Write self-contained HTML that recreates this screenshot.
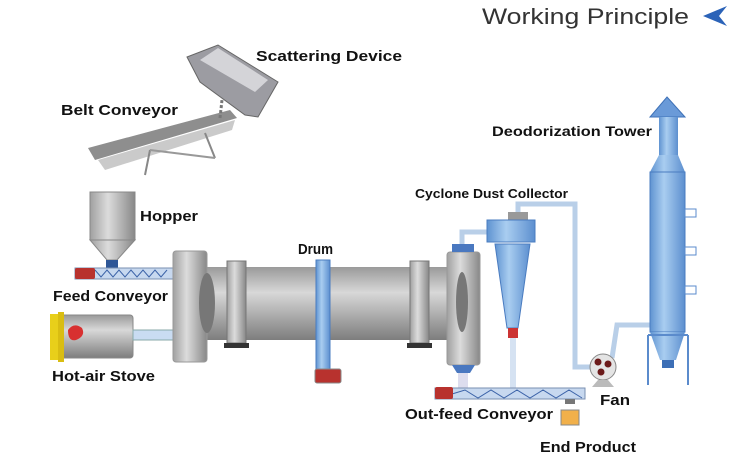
<!DOCTYPE html>
<html><head><meta charset="utf-8"><style>
html,body{margin:0;padding:0;background:#fff;}
svg{display:block}
text{font-family:"Liberation Sans",sans-serif;font-weight:bold;fill:#111;}
</style></head><body>
<svg width="750" height="457" viewBox="0 0 750 457" xmlns="http://www.w3.org/2000/svg">
<defs>
<linearGradient id="gv" x1="0" y1="0" x2="0" y2="1">
<stop offset="0" stop-color="#9a9a9a"/><stop offset="0.35" stop-color="#d8d8d8"/><stop offset="1" stop-color="#7d7d7d"/></linearGradient>
<linearGradient id="gh" x1="0" y1="0" x2="1" y2="0">
<stop offset="0" stop-color="#a0a0a0"/><stop offset="0.4" stop-color="#dcdcdc"/><stop offset="1" stop-color="#888"/></linearGradient>
<linearGradient id="bh" x1="0" y1="0" x2="1" y2="0">
<stop offset="0" stop-color="#5f93d1"/><stop offset="0.4" stop-color="#a9cdf0"/><stop offset="1" stop-color="#5c8fcf"/></linearGradient>
</defs>
<text x="482" y="24" textLength="207" lengthAdjust="spacingAndGlyphs" style="font-weight:normal;font-size:22px;fill:#333">Working Principle</text>
<polygon points="727,6 703,16 727,26 719,16" fill="#2b63b8"/>

<!-- scattering device -->
<polygon points="187,57 218,45 278,82 258,117 245,115 200,82" fill="#9c9ca2" stroke="#666" stroke-width="1"/>
<polygon points="200,60 218,48 268,80 255,92" fill="#d4d4d8"/>
<!-- belt conveyor -->
<polygon points="88,148 230,110 237,118 95,160" fill="#8e8e8e"/>
<polygon points="98,160 235,120 232,130 105,170" fill="#bdbdbd" opacity="0.8"/>
<line x1="150" y1="150" x2="145" y2="175" stroke="#888" stroke-width="2"/>
<line x1="205" y1="133" x2="215" y2="158" stroke="#888" stroke-width="2"/>
<line x1="150" y1="150" x2="215" y2="158" stroke="#999" stroke-width="2"/>
<line x1="220" y1="118" x2="222" y2="100" stroke="#777" stroke-width="3" stroke-dasharray="3 2"/>

<!-- hopper -->
<rect x="90" y="192" width="45" height="48" fill="url(#gh)" stroke="#888"/>
<polygon points="90,240 135,240 117,260 107,260" fill="url(#gh)" stroke="#888"/>
<rect x="106" y="260" width="12" height="8" fill="#2f5797"/>
<!-- feed conveyor -->
<rect x="75" y="268" width="98" height="11" fill="#c7d8ef" stroke="#7a8fb0"/>
<polyline points="95,270 101,277 107,270 113,277 119,270 125,277 131,270 137,277 143,270 149,277 155,270 161,277 167,270" fill="none" stroke="#3c63a8" stroke-width="1"/>
<rect x="75" y="268" width="20" height="11" rx="2" fill="#b8322e"/>
<!-- stove -->
<rect x="56" y="315" width="77" height="43" rx="3" fill="url(#gv)" stroke="#888"/>
<rect x="50" y="314" width="8" height="46" fill="#e8cf1a"/>
<rect x="58" y="312" width="6" height="50" fill="#d9bd12"/>
<path d="M68,330 q6,-8 14,-2 q4,8 -6,12 q-8,2 -8,-10z" fill="#d83030"/>
<rect x="133" y="330" width="40" height="10" fill="#c9dcf2" stroke="#8aa"/>
<!-- drum -->
<rect x="185" y="267" width="280" height="73" fill="url(#gv)"/>
<rect x="173" y="251" width="34" height="111" rx="3" fill="url(#gh)" stroke="#999"/>
<ellipse cx="207" cy="303" rx="8" ry="30" fill="#777"/>
<rect x="227" y="261" width="19" height="82" fill="url(#gh)" stroke="#777"/>
<rect x="224" y="343" width="25" height="5" fill="#333"/>
<rect x="410" y="261" width="19" height="82" fill="url(#gh)" stroke="#777"/>
<rect x="407" y="343" width="25" height="5" fill="#333"/>
<rect x="316" y="260" width="14" height="110" fill="url(#bh)" stroke="#4a7cc0"/>
<rect x="315" y="369" width="26" height="14" rx="2" fill="#b8322e" stroke="#888"/>
<rect x="447" y="252" width="33" height="113" rx="3" fill="url(#gh)" stroke="#999"/>
<ellipse cx="462" cy="302" rx="6" ry="30" fill="#777"/>
<rect x="452" y="244" width="22" height="8" fill="#4a78c0"/>
<polygon points="452,365 475,365 470,373 457,373" fill="#4a78c0"/>
<rect x="458" y="373" width="10" height="15" fill="#dde"/>
<!-- pipes -->
<polyline points="462,244 462,232 488,232" fill="none" stroke="#b9cfe8" stroke-width="5"/>
<polyline points="518,212 518,204 575,204 575,367 592,367" fill="none" stroke="#b9cfe8" stroke-width="5"/>
<polyline points="612,358 617,325 652,325" fill="none" stroke="#b9cfe8" stroke-width="5"/>
<!-- cyclone -->
<rect x="508" y="212" width="20" height="8" fill="#999"/>
<rect x="487" y="220" width="48" height="22" fill="url(#bh)" stroke="#4a7cc0"/>
<polygon points="495,244 530,244 518,328 507,328" fill="url(#bh)" stroke="#4a7cc0"/>
<rect x="508" y="328" width="10" height="10" fill="#c33"/>
<rect x="510" y="338" width="6" height="52" fill="#d5e2f2"/>
<!-- out-feed conveyor -->
<rect x="435" y="388" width="150" height="11" fill="#c7d8ef" stroke="#7a8fb0"/>
<polyline points="452,394 465,390 478,398 491,390 504,398 517,390 530,398 543,390 556,398 569,390 582,398" fill="none" stroke="#3c63a8"/>
<rect x="435" y="387" width="18" height="12" rx="2" fill="#b8322e"/>
<!-- end product -->
<rect x="561" y="410" width="18" height="15" fill="#f1b04a" stroke="#888"/>
<rect x="565" y="399" width="10" height="5" fill="#777"/>
<!-- fan -->
<circle cx="603" cy="367" r="13" fill="#e4e4e4" stroke="#888"/>
<circle cx="598" cy="362" r="3.5" fill="#6b1a1a"/><circle cx="608" cy="364" r="3.5" fill="#6b1a1a"/><circle cx="601" cy="372" r="3.5" fill="#6b1a1a"/>
<polygon points="598,380 608,380 614,387 592,387" fill="#bbb"/>
<!-- tower -->
<polygon points="667,97 685,117 650,117" fill="#6a9ad8" stroke="#3f72b8"/>
<rect x="659" y="117" width="19" height="40" fill="url(#bh)"/>
<polygon points="659,155 678,155 685,172 650,172" fill="url(#bh)"/>
<rect x="650" y="172" width="35" height="160" fill="url(#bh)" stroke="#4a7cc0"/>
<polygon points="650,332 685,332 676,360 660,360" fill="url(#bh)"/>
<rect x="662" y="360" width="12" height="8" fill="#3d6fb6"/>
<line x1="648" y1="335" x2="648" y2="385" stroke="#5b8bcc" stroke-width="2"/>
<line x1="688" y1="335" x2="688" y2="385" stroke="#5b8bcc" stroke-width="2"/>
<line x1="648" y1="335" x2="688" y2="335" stroke="#5b8bcc" stroke-width="2"/>
<rect x="685" y="209" width="11" height="8" fill="#fff" stroke="#5b8bcc"/>
<rect x="685" y="247" width="11" height="8" fill="#fff" stroke="#5b8bcc"/>
<rect x="685" y="286" width="11" height="8" fill="#fff" stroke="#5b8bcc"/>

<!-- labels -->
<text x="256" y="61" font-size="15" textLength="146" lengthAdjust="spacingAndGlyphs">Scattering Device</text>
<text x="61" y="115" font-size="15" textLength="117" lengthAdjust="spacingAndGlyphs">Belt Conveyor</text>
<text x="140" y="221" font-size="15" textLength="58" lengthAdjust="spacingAndGlyphs">Hopper</text>
<text x="298" y="254" font-size="15" textLength="35" lengthAdjust="spacingAndGlyphs">Drum</text>
<text x="53" y="301" font-size="15" textLength="115" lengthAdjust="spacingAndGlyphs">Feed Conveyor</text>
<text x="52" y="381" font-size="15" textLength="103" lengthAdjust="spacingAndGlyphs">Hot-air Stove</text>
<text x="492" y="136" font-size="14" textLength="160" lengthAdjust="spacingAndGlyphs">Deodorization Tower</text>
<text x="415" y="198" font-size="12.5" textLength="153" lengthAdjust="spacingAndGlyphs">Cyclone Dust Collector</text>
<text x="600" y="405" font-size="15" textLength="30" lengthAdjust="spacingAndGlyphs">Fan</text>
<text x="405" y="419" font-size="15" textLength="148" lengthAdjust="spacingAndGlyphs">Out-feed Conveyor</text>
<text x="540" y="452" font-size="15" textLength="96" lengthAdjust="spacingAndGlyphs">End Product</text>
</svg>
</body></html>
